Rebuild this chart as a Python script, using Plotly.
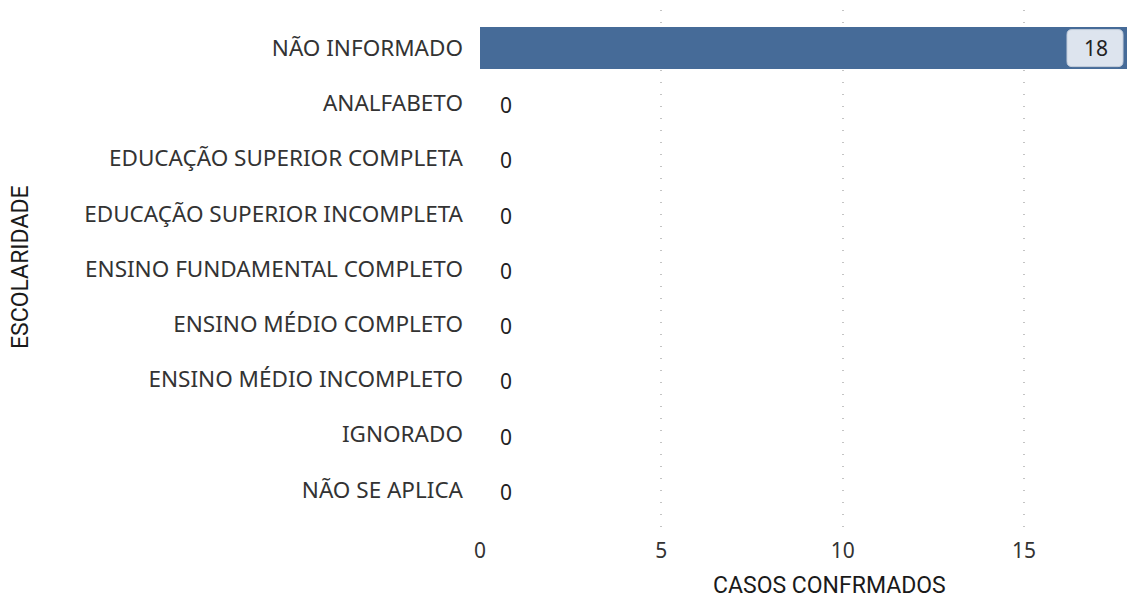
import plotly.graph_objects as go

categories = ["NÃO INFORMADO", "ANALFABETO", "EDUCAÇÃO SUPERIOR COMPLETA",
              "EDUCAÇÃO SUPERIOR INCOMPLETA", "ENSINO FUNDAMENTAL COMPLETO",
              "ENSINO MÉDIO COMPLETO", "ENSINO MÉDIO INCOMPLETO", "IGNORADO",
              "NÃO SE APLICA"]
values = [18, 0, 0, 0, 0, 0, 0, 0, 0]
x_ticks = [0, 5, 10, 15]

BAR = "#466b98"
LABEL_FONT = "Noto Sans"
TITLE_FONT = "Roboto"

fig = go.Figure(go.Bar(
    x=values, y=categories, orientation="h",
    marker=dict(color=BAR, line=dict(width=0)),
    width=0.76, hoverinfo="x+y",
))

x_max = 17.84
for i, (c, v) in enumerate(zip(categories, values)):
    if v > x_max * 0.5:
        # rounded label box at the inside end of the (clipped) bar
        fig.add_shape(type="path", xref="paper", yref="y", xsizemode="pixel", ysizemode="pixel",
                      xanchor=1, yanchor=i,
                      path=("M -55,18.5 L -9,18.5 Q -4,18.5 -4,13.5 L -4,-13.5 Q -4,-18.5 -9,-18.5 "
                            "L -55,-18.5 Q -60,-18.5 -60,-13.5 L -60,13.5 Q -60,18.5 -55,18.5 Z"),
                      fillcolor="#dde4ee", line=dict(color="#c3cddb", width=1), layer="above")
        fig.add_annotation(xref="paper", x=1, y=c, text=str(v), xanchor="center", xshift=-31,
                           showarrow=False, font=dict(family=LABEL_FONT, size=21, color="#222"))
    else:
        fig.add_annotation(x=v, y=c, text=str(v), xanchor="left", xshift=18, yshift=-2,
                           showarrow=False, font=dict(family=LABEL_FONT, size=21, color="#222"))

fig.add_annotation(xref="paper", yref="paper", x=0, y=0, xshift=349, yshift=-55,
                   text="CASOS CONFRMADOS", showarrow=False, xanchor="center", yanchor="middle",
                   font=dict(family=TITLE_FONT, size=23, color="#1a1a1a"))
fig.add_annotation(xref="paper", yref="paper", x=0, y=0.5, xshift=-460, yshift=3,
                   text="ESCOLARIDADE", showarrow=False, textangle=-90,
                   xanchor="center", yanchor="middle",
                   font=dict(family=TITLE_FONT, size=23, color="#1a1a1a"))

fig.update_layout(
    width=1127, height=598,
    margin=dict(l=480, r=0, t=10, b=68),
    plot_bgcolor="white", paper_bgcolor="white",
    showlegend=False,
    font=dict(family=LABEL_FONT, size=16, color="#333"),
    xaxis=dict(range=[0, x_max], tickvals=x_ticks, showgrid=True, automargin=False,
               gridcolor="#c4c4c4", griddash="1px,11px", gridwidth=1.5,
               zeroline=False, showline=False, ticks="", ticklabelstandoff=6,
               tickfont=dict(size=21, color="#333")),
    yaxis=dict(categoryorder="array", categoryarray=categories, automargin=False,
               range=[8.73, -0.69], ticks="", showgrid=False, zeroline=False,
               ticklabelstandoff=16,
               tickfont=dict(size=22.5, color="#333")),
)
fig.write_html("out.html", config={"displayModeBar": False},
               post_script="document.body.style.margin='0';")
